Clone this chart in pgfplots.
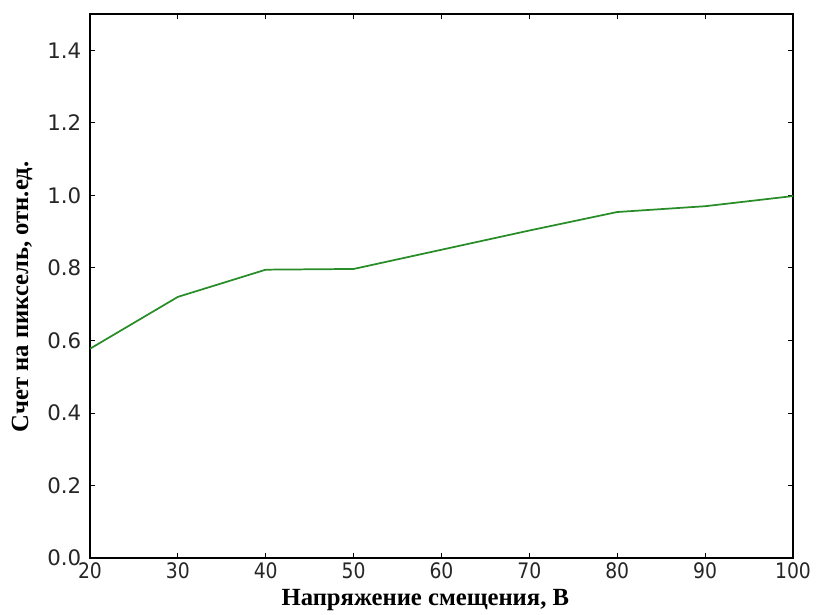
\documentclass[border=0pt]{standalone}
\usepackage{fontspec}
\setmainfont{Liberation Serif}
\newfontfamily\tickfont{DejaVu Sans}
\usepackage{pgfplots}
\usetikzlibrary{calc}
\pgfplotsset{compat=1.18}
\definecolor{lgreen}{RGB}{40,140,40}
\begin{document}
\begin{tikzpicture}
\begin{axis}[
  name=ax,
  scale only axis,
  width=527.25pt, height=408pt,
  xmin=20, xmax=100, ymin=0, ymax=1.5,
  xtick={20,30,...,100},
  ytick={0,0.2,...,1.4},
  yticklabel style={/pgf/number format/fixed, /pgf/number format/fixed zerofill, /pgf/number format/precision=1},
  /pgf/number format/assume math mode=true,
  tick align=inside,
  major tick length=4pt,
  tick style={black, line width=0.6pt},
  axis line style={black, line width=0.9pt},
  ticklabel style={font=\tickfont\fontsize{16}{18}\selectfont, text=black!85},
  xticklabel style={yshift=-2pt, xscale=0.88, inner ysep=1pt},
  yticklabel style={xshift=-3pt},
  xlabel={\textbf{Напряжение смещения, В}},
  ylabel={\textbf{Счет на пиксель, отн.ед.}},
  label style={font=\fontsize{18.5}{20}\selectfont},
  xlabel style={at={(axis description cs:0.477,-0.078)}, anchor=center, inner ysep=1pt},
  ylabel style={at={(axis description cs:-0.0967,0.48)}, anchor=center},
]
\addplot[lgreen, line width=1.3pt] coordinates {
  (20,0.577) (30,0.720) (40,0.795) (50,0.797) (60,0.850) (70,0.903) (80,0.954) (90,0.970) (100,0.998)
};
\end{axis}
\pgfresetboundingbox
\path[use as bounding box] ($(ax.south west)+(-67.5pt,-42pt)$) rectangle ($(ax.north east)+(18pt,10.5pt)$);
\end{tikzpicture}
\end{document}
